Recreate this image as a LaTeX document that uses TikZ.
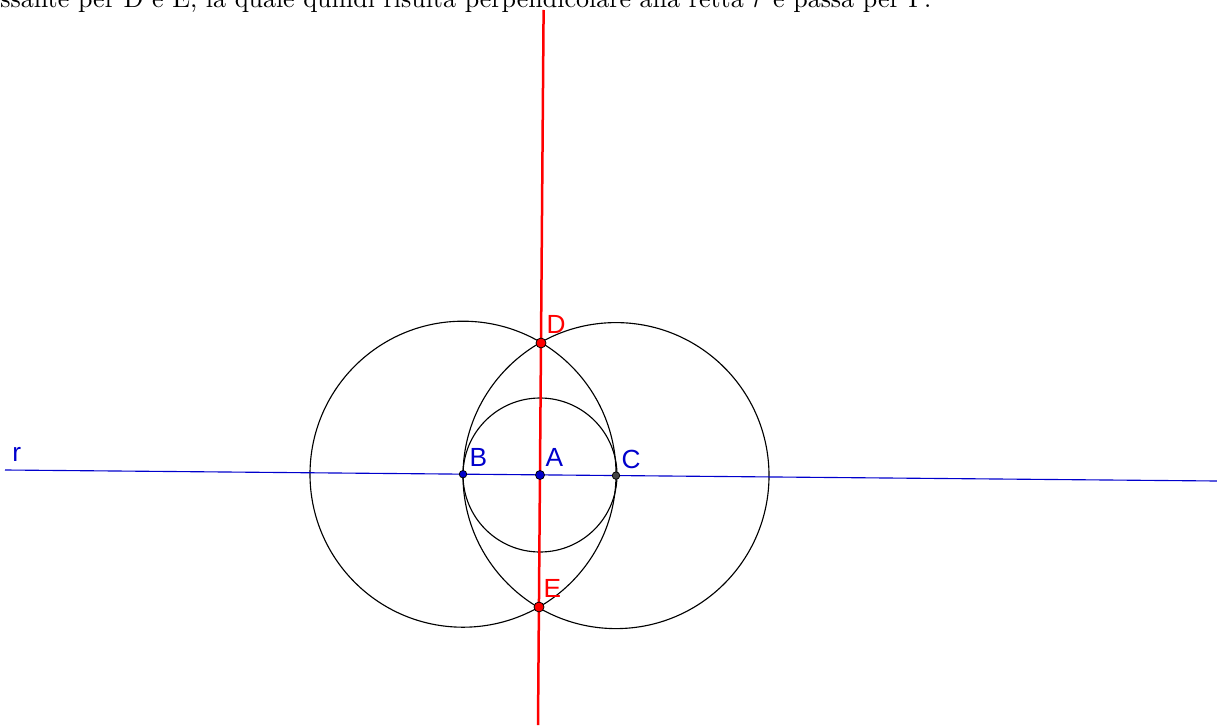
\documentclass[tikz,border=0pt]{standalone}
\usepackage{fontspec}
\newfontfamily\labelfont{Liberation Sans}
\usetikzlibrary{positioning}
\definecolor{ggblue}{HTML}{0000CC}
\definecolor{ggred}{HTML}{FF0000}
\definecolor{gggray}{HTML}{444444}

\begin{document}
\begin{tikzpicture}[x=0.4pt,y=-0.4pt,
    circ/.style={draw=black, line width=0.45pt},
    pt/.style={circle, draw=black, line width=0.3pt, inner sep=0pt, minimum size=3.6pt},
    lbl/.style={font=\labelfont\fontsize{10.5}{12}\selectfont, inner sep=0pt, anchor=base west}
  ]
    \useasboundingbox (0,0) rectangle (1217,725);

    \node[anchor=base west, inner sep=0pt, font=\fontsize{10.4}{12}\selectfont] (caption) at (0,7.5)
      {ssante per D e E, la quale quindi risulta perpendicolare alla retta $r$ e passa per P.};

    \coordinate (rleft) at (5,470);
    \coordinate (rright) at (1217,481);
    \coordinate (ptop) at (543.6,10);
    \coordinate (pbot) at (538,725);

    \coordinate (A) at (540,475);
    \coordinate (B) at (463,474.2);
    \coordinate (C) at (616,475.6);
    \coordinate (D) at (541,343);
    \coordinate (E) at (539,607);

    % circles
    \draw[circ] (A) circle [radius=30.8pt];
    \draw[circ] (B) circle [radius=61.2pt];
    \draw[circ] (C) circle [radius=61.2pt];

    % lines
    \draw[ggblue, line width=0.45pt] (rleft) -- (rright);
    \draw[ggred, line width=1pt] (ptop) -- (pbot);

    % points
    \node[pt, fill=ggblue, minimum size=3pt] (pB) at (B) {};
    \node[pt, fill=gggray, minimum size=3pt] (pC) at (C) {};
    \node[pt, fill=ggblue] (pA) at (A) {};
    \node[pt, fill=ggred, minimum size=4pt] (pD) at (D) {};
    \node[pt, fill=ggred, minimum size=4pt] (pE) at (E) {};

    % labels
    \node[lbl, ggblue] (lr) at (12,461) {r};
    \node[lbl, ggblue] (lA) at (545,466) {A};
    \node[lbl, ggblue] (lB) at (469,466) {B};
    \node[lbl, ggblue] (lC) at (621,468) {C};
    \node[lbl, ggred] (lD) at (546,333) {D};
    \node[lbl, ggred] (lE) at (543,597) {E};
  \end{tikzpicture}
\end{document}
